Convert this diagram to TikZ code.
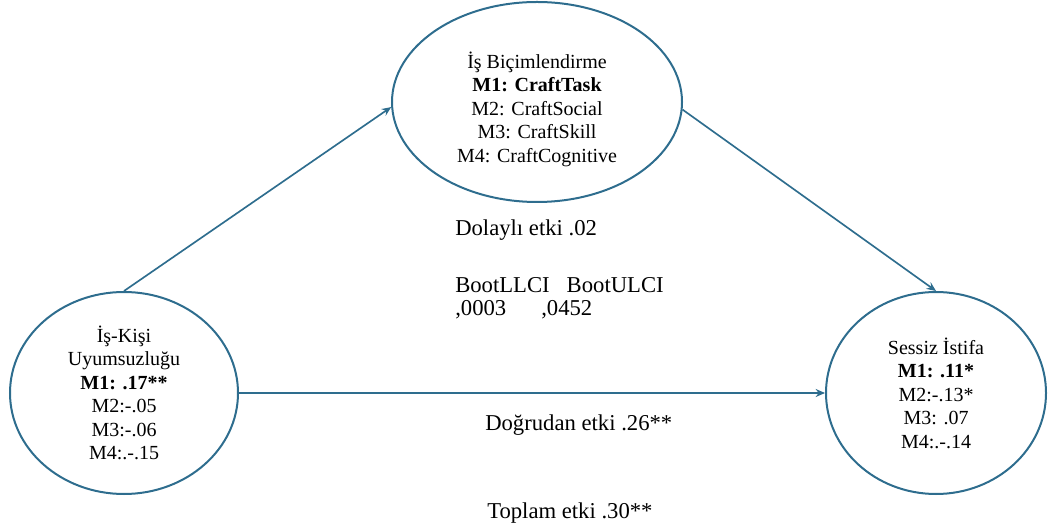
\documentclass[tikz,border=0pt]{standalone}
\usepackage{fontspec}
\setmainfont{Liberation Serif}
\usetikzlibrary{shapes.geometric,arrows.meta}
\definecolor{pathblue}{HTML}{2E6D8E}
\tikzset{
  var/.style={ellipse,draw=pathblue,line width=1.5pt,inner sep=0pt,align=center,
    font=\fontsize{15}{17.6}\selectfont},
  vartext/.style={inner sep=0pt,align=center,font=\fontsize{15}{17.6}\selectfont},
  effect/.style={anchor=west,inner sep=0pt,font=\fontsize{17}{20}\selectfont},
  path/.style={draw=pathblue,line width=1.25pt,-{Stealth[length=7pt,width=6pt]}}
}
\begin{document}
\begin{tikzpicture}[x=0.75pt,y=-0.75pt]
      \useasboundingbox (0,0) rectangle (1048,530);
      \draw
        (124,393) node[var,minimum width=228*0.75pt,minimum height=202*0.75pt] (uyum)
          {İş-Kişi\\Uyumsuzluğu\\\textbf{M1: .17**}\\M2:-.05\\M3:-.06\\M4:.-.15}
        (537,102) node[var,minimum width=290*0.75pt,minimum height=200*0.75pt] (bicim){}
        (537,109) node[vartext] (bicimtext)
          {İş Biçimlendirme\\\textbf{M1: CraftTask}\\M2: CraftSocial\\M3: CraftSkill\\M4: CraftCognitive}
        (936,393) node[var,minimum width=220*0.75pt,minimum height=202*0.75pt] (istifa)
          {Sessiz İstifa\\\textbf{M1: .11*}\\M2:-.13*\\M3: .07\\M4:.-.14};
      \draw
        (455,230) node[effect] (dolayli){Dolaylı etki .02}
        (455,285) node[effect] (boot){BootLLCI~~~BootULCI}
        (455,310) node[effect] (llci){,0003}
        (541,310) node[effect] (ulci){,0452}
        (485,425) node[effect] (dogrudan){Doğrudan etki .26**}
        (487,513) node[effect] (toplam){Toplam etki .30**};
      \begin{scope}[path]
        \draw (uyum.north) to (bicim.182);
        \draw (bicim.357) to (istifa.north);
        \draw (uyum.east) to (istifa.west);
      \end{scope}
    \end{tikzpicture}
\end{document}
